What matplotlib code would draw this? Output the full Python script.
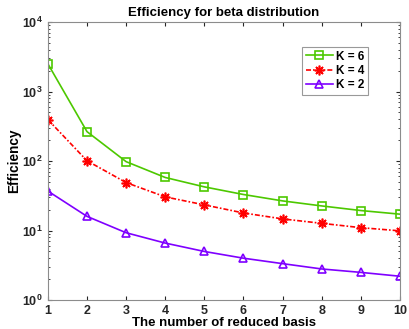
import numpy as np
import matplotlib.pyplot as plt

plt.rcParams['font.family'] = ['Liberation Sans', 'DejaVu Sans']
plt.rcParams['font.weight'] = 'bold'

n_basis = np.arange(1, 11)
eff_k6 = [2510, 265, 98, 58, 42.5, 33, 26.7, 22.6, 19.4, 17.2]
eff_k4 = [395, 101, 49, 30.5, 23.4, 17.9, 14.7, 12.7, 11.0, 9.9]
eff_k2 = [37, 16, 9.3, 6.6, 5.0, 4.0, 3.34, 2.8, 2.5, 2.2]

fig = plt.figure(figsize=(4.09, 3.29), dpi=100)
ax = fig.add_axes([0.117, 0.088, 0.861, 0.845])

ax.plot(n_basis, eff_k6, color='#4dc800', ls='-', lw=1.2, marker='s', ms=6,
        mfc='none', mew=1.2, label='K = 6')
ax.plot(n_basis, eff_k4, color='red', ls=(0, (3, 1.2, 1, 1.2)), lw=1.2,
        marker=(8, 2, 0), ms=7, mew=1.2, label='K = 4')
ax.plot(n_basis, eff_k2, color='#7f00ff', ls='-', lw=1.2, marker='^', ms=6,
        mfc='none', mew=1.2, label='K = 2')

ax.set_yscale('log')
ax.set_xlim(1, 10)
ax.set_ylim(1, 1e4)
ax.set_xticks(np.arange(1, 11))
ax.tick_params(which='both', direction='in', top=True, right=True,
               labelsize=9, colors='0.15')
ax.tick_params(which='major', length=3)
ax.tick_params(axis='x', pad=3.5)
ax.tick_params(which='minor', length=1.5)
for s in ax.spines.values():
    s.set_color('0.55')
    s.set_linewidth(0.8)

ax.set_title('Efficiency for beta distribution', fontsize=9.5, fontweight='bold', pad=4)
ax.set_xlabel('The number of reduced basis', fontsize=9.5, fontweight='bold', labelpad=0)
ax.set_ylabel('Efficiency', fontsize=9.8, fontweight='bold', labelpad=0.5)

leg = ax.legend(loc='upper right', bbox_to_anchor=(0.91, 0.91), fontsize=8.5,
                frameon=True, fancybox=False, handlelength=2.3, handletextpad=0.3,
                borderpad=0.3, labelspacing=0.2, borderaxespad=0)
leg.get_frame().set_edgecolor('0.5')
leg.get_frame().set_linewidth(0.8)

plt.savefig('out.png', dpi=100)
